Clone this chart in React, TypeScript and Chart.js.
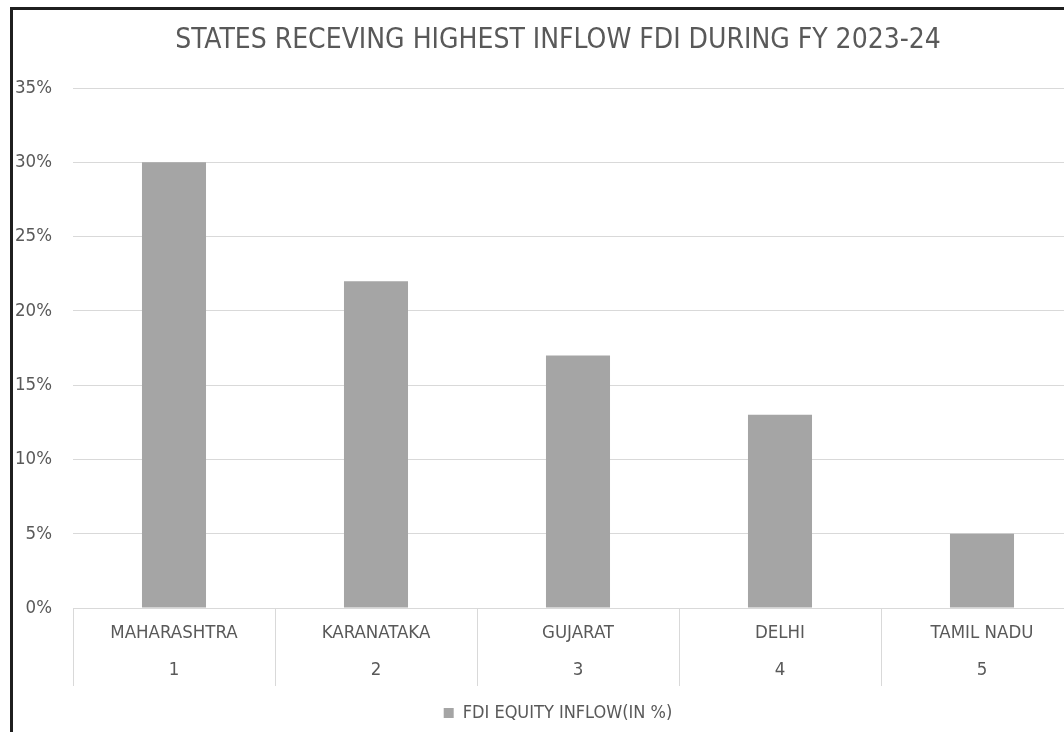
import React, { useEffect, useRef } from "react";
import { Chart, registerables } from "chart.js";

Chart.register(...registerables);

const states = ["MAHARASHTRA", "KARANATAKA", "GUJARAT", "DELHI", "TAMIL NADU"];
const ranks = ["1", "2", "3", "4", "5"];
const inflowPct = [30, 22, 17, 13, 5];
const seriesName = "FDI EQUITY INFLOW(IN %)";
const titleText = "STATES RECEVING HIGHEST INFLOW FDI DURING FY 2023-24";

const FONT = '"Liberation Sans Narrow", "Arial Narrow", "DejaVu Sans Condensed", sans-serif';
const TEXT = "#595959";
const GRID = "#d9d9d9";
const BAR = "#a5a5a5";

// vertical dividers between categories, reaching down through the two label rows
const categoryDividers = {
  id: "categoryDividers",
  afterDraw(chart: any) {
    const x = chart.scales.x;
    const { ctx, chartArea } = chart;
    ctx.save();
    ctx.strokeStyle = GRID;
    ctx.lineWidth = 1;
    for (let i = 0; i <= states.length; i++) {
      const px = Math.round(x.getPixelForValue(i - 0.5)) + 0.5;
      ctx.beginPath();
      ctx.moveTo(px, chartArea.bottom);
      ctx.lineTo(px, chartArea.bottom + 78);
      ctx.stroke();
    }
    ctx.restore();
  },
};

export default function App() {
  const ref = useRef<HTMLCanvasElement>(null);

  useEffect(() => {
    if (!ref.current) return;
    const chart = new Chart(ref.current, {
      type: "bar",
      data: {
        labels: states.map((s, i) => [s, ranks[i]]),
        datasets: [
          {
            label: seriesName,
            data: inflowPct,
            backgroundColor: BAR,
            borderWidth: 0,
            categoryPercentage: 1,
            barPercentage: 0.317,
          },
        ],
      },
      options: {
        responsive: false,
        animation: false,
        layout: { padding: { left: 33, right: 17, top: 0, bottom: 0 } },
        plugins: {
          title: {
            display: true,
            text: titleText,
            color: TEXT,
            font: { family: FONT, size: 28, weight: "normal", lineHeight: 1.2 },
            padding: { top: 24.2, bottom: 30.2 },
          },
          legend: {
            position: "bottom",
            labels: {
              color: TEXT,
              boxWidth: 10,
              boxHeight: 10,
              padding: 10,
              font: { family: FONT, size: 18 },
            },
          },
          tooltip: { enabled: false },
        },
        scales: {
          x: {
            grid: { display: false, drawTicks: false },
            border: { display: false },
            ticks: {
              color: TEXT,
              padding: 6,
              maxRotation: 0,
              autoSkip: false,
              font: { family: FONT, size: 18.5, lineHeight: 2.027 },
            },
            afterFit: (scale: any) => {
              scale.height = 86;
            },
          },
          y: {
            min: 0,
            max: 35,
            border: { display: false },
            grid: { color: GRID, drawTicks: false, lineWidth: 1 },
            ticks: {
              stepSize: 5,
              color: TEXT,
              padding: 21,
              font: { family: FONT, size: 18.5 },
              callback: (v: any) => `${v}%`,
            },
            afterFit: (scale: any) => {
              // narrow axis box; tick labels are allowed to spill into the left padding
              scale.width = 40;
              scale._computeLabelArea = () => undefined;
            },
          },
        },
      },
      plugins: [categoryDividers],
    });
    return () => chart.destroy();
  }, []);

  return (
    <div
      style={{
        position: "fixed",
        left: 0,
        top: 0,
        width: 1064,
        height: 732,
        overflow: "hidden",
        background: "#fff",
      }}
    >
      <canvas
        ref={ref}
        width={1100}
        height={732}
        style={{ position: "absolute", left: 0, top: 0, width: 1100, height: 732 }}
      />
      <div
        style={{
          position: "absolute",
          left: 10,
          top: 7,
          right: 0,
          bottom: 0,
          borderLeft: "3px solid #1f1f1f",
          borderTop: "3px solid #1f1f1f",
          pointerEvents: "none",
        }}
      />
    </div>
  );
}
